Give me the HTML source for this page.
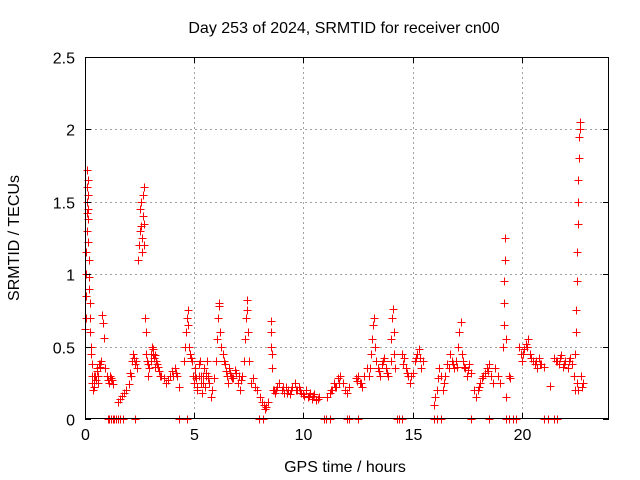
<!DOCTYPE html>
<html><head><meta charset="utf-8"><style>
body{margin:0;background:#fff;}
svg{display:block;font-family:"Liberation Sans",sans-serif;}
</style></head><body>
<svg id="chart" width="640" height="480"></svg>
<script>
const times=[0.02,0.03,0.04,0.05,0.06,0.07,0.08,0.09,0.1,0.11,0.12,0.13,0.14,0.15,0.16,0.17,0.18,0.2,0.22,0.24,0.25,0.27,0.28,0.3,0.32,0.34,
0.37,0.4,0.43,0.46,0.5,0.53,0.56,0.6,0.65,0.7,0.75,0.8,0.82,0.85,0.9,1.0,1.05,1.1,1.2,1.3,
1.5,1.6,1.7,1.8,1.9,2.0,2.1,2.15,2.2,2.3,2.4,
2.45,2.48,2.5,2.52,2.55,2.57,2.6,2.62,2.64,2.66,2.68,2.7,2.72,
2.75,2.78,2.8,2.85,2.9,2.95,3.0,3.05,3.1,3.15,3.2,3.25,3.3,3.35,3.4,3.5,3.6,3.7,3.8,3.9,4.0,4.1,4.2,4.3,
4.55,4.6,4.63,4.66,4.7,4.73,4.76,4.8,4.85,4.9,4.95,5.0,5.05,5.1,5.15,5.2,5.25,5.3,5.35,5.4,5.45,5.5,5.55,5.6,5.65,5.7,5.75,5.8,5.9,6.0,
6.05,6.1,6.13,6.16,6.2,6.25,6.3,6.35,6.4,6.5,6.55,6.6,6.7,6.8,6.9,7.0,7.1,7.2,
7.3,7.33,7.36,7.4,7.43,7.46,7.5,7.6,7.7,7.8,7.9,8.0,8.1,8.2,8.25,8.3,8.4,
8.5,8.52,8.54,8.56,8.58,8.6,8.7,8.8,8.9,9.0,9.1,9.2,9.3,9.4,9.5,9.6,9.7,9.8,9.9,10.0,10.1,10.2,10.3,10.4,10.5,10.6,10.7,
11.1,11.2,11.3,11.4,11.5,11.6,11.7,11.8,11.9,12.0,12.1,
12.4,12.5,12.6,12.7,12.8,12.9,13.0,13.1,13.15,13.2,13.25,13.3,13.35,13.4,13.5,13.6,13.7,13.8,13.9,
14.0,14.03,14.06,14.1,14.13,14.16,14.2,14.5,14.6,14.7,14.8,14.9,15.0,15.1,15.2,15.3,15.4,15.5,
16.0,16.05,16.1,16.15,16.2,16.3,16.4,16.5,16.6,16.7,16.8,16.9,17.0,17.1,17.15,17.2,17.25,17.3,17.4,17.5,17.6,17.7,
17.8,17.9,18.0,18.1,18.2,18.3,18.4,18.5,18.6,18.7,18.8,18.9,19.0,
19.15,19.17,19.19,19.21,19.23,19.25,19.27,19.3,19.4,19.45,
19.9,19.95,20.0,20.1,20.2,20.3,20.4,20.5,20.6,20.7,20.8,20.9,21.0,21.3,
21.5,21.6,21.7,21.8,21.9,22.0,22.1,22.2,22.3,
22.4,22.45,22.48,22.5,22.52,22.54,22.56,22.58,22.6,22.62,22.64,22.66,22.68,22.45,22.55,22.6,22.7,22.75,22.8,
0.42,0.58,0.68,1.15,1.25,2.05,2.25,2.35,2.9,3.02,3.12,3.22,3.45,4.05,4.15,5.02,5.12,5.22,5.32,5.42,5.52,5.62,6.45,6.62,6.75,6.85,7.05,7.15,
8.65,8.75,9.05,9.25,9.45,9.65,9.85,10.05,10.25,10.45,10.65,11.25,11.45,11.65,12.45,12.65,13.05,13.45,13.65,13.85,14.55,14.75,14.95,15.15,15.35,
16.45,16.65,16.85,17.05,17.35,17.55,18.05,18.25,18.45,20.05,20.25,20.45,20.65,20.85,21.55,21.75,21.95,22.15];
const values=[0.62,0.7,0.85,1.0,1.15,1.3,1.42,1.5,1.6,1.72,1.65,1.55,1.45,1.38,1.22,1.1,0.98,0.9,0.8,0.7,0.6,0.5,0.45,0.38,0.3,0.25,
0.2,0.22,0.25,0.3,0.27,0.33,0.35,0.3,0.38,0.36,0.4,0.72,0.66,0.56,0.35,0.3,0.27,0.25,0.28,0.24,
0.12,0.14,0.16,0.18,0.2,0.24,0.3,0.4,0.45,0.38,0.35,
1.1,1.2,1.3,1.45,1.5,1.33,1.15,1.25,1.4,1.55,1.6,1.35,1.2,
0.7,0.6,0.45,0.4,0.3,0.35,0.45,0.5,0.48,0.42,0.44,0.4,0.38,0.36,0.33,0.3,0.28,0.25,0.27,0.3,0.33,0.35,0.3,0.22,
0.4,0.5,0.6,0.7,0.75,0.65,0.5,0.45,0.42,0.4,0.3,0.25,0.35,0.28,0.2,0.3,0.4,0.25,0.18,0.3,0.35,0.22,0.3,0.4,0.3,0.25,0.15,0.2,0.28,0.4,
0.55,0.7,0.8,0.78,0.6,0.5,0.45,0.4,0.38,0.3,0.25,0.35,0.3,0.28,0.32,0.25,0.2,0.3,
0.4,0.55,0.7,0.82,0.75,0.6,0.4,0.25,0.28,0.22,0.2,0.15,0.12,0.1,0.07,0.08,0.12,
0.68,0.6,0.5,0.45,0.35,0.2,0.18,0.22,0.25,0.2,0.18,0.22,0.2,0.17,0.22,0.25,0.2,0.22,0.18,0.17,0.2,0.15,0.18,0.14,0.17,0.13,0.15,
0.15,0.18,0.2,0.25,0.22,0.28,0.3,0.25,0.2,0.18,0.22,
0.28,0.3,0.25,0.22,0.3,0.35,0.3,0.45,0.55,0.65,0.7,0.5,0.4,0.35,0.3,0.38,0.42,0.35,0.3,
0.4,0.55,0.7,0.76,0.6,0.45,0.35,0.45,0.42,0.35,0.3,0.25,0.32,0.4,0.45,0.48,0.35,0.4,
0.1,0.15,0.2,0.28,0.35,0.3,0.2,0.3,0.38,0.45,0.4,0.35,0.4,0.5,0.6,0.67,0.45,0.4,0.35,0.3,0.38,0.32,
0.2,0.15,0.2,0.25,0.28,0.32,0.35,0.38,0.3,0.25,0.35,0.3,0.25,
0.5,0.65,0.8,0.95,1.1,1.25,0.55,0.15,0.3,0.28,
0.5,0.45,0.4,0.48,0.52,0.55,0.45,0.4,0.38,0.35,0.42,0.38,0.36,0.23,
0.42,0.4,0.38,0.44,0.36,0.4,0.35,0.42,0.38,
0.3,0.45,0.6,0.75,0.95,1.15,1.35,1.5,1.65,1.8,1.95,2.05,2.0,0.2,0.25,0.2,0.3,0.22,0.25,
0.3,0.25,0.38,0.3,0.27,0.32,0.42,0.4,0.38,0.4,0.45,0.36,0.3,0.3,0.32,0.3,0.22,0.38,0.3,0.25,0.32,0.28,0.33,0.32,0.28,0.34,0.3,0.27,
0.2,0.2,0.22,0.18,0.2,0.2,0.2,0.16,0.16,0.16,0.14,0.2,0.22,0.25,0.26,0.25,0.35,0.33,0.4,0.32,0.38,0.32,0.3,0.42,0.42,
0.25,0.35,0.38,0.36,0.36,0.34,0.22,0.3,0.33,0.45,0.5,0.42,0.4,0.38,0.4,0.42,0.38,0.4];
const zeroTimes=[1.05,1.12,1.2,1.28,1.35,1.42,1.5,1.6,1.75,2.3,4.3,4.65,7.95,8.15,10.95,11.05,11.2,12.0,12.1,12.5,14.3,14.4,14.5,16.0,16.1,16.3,17.7,18.5,19.3,19.4,19.6,19.75,21.0,21.2,21.5,21.6];
const xTicks=[0,5,10,15,20];
const yTicks=[0,0.5,1,1.5,2,2.5];
const yTickLabels=["0","0.5","1","1.5","2","2.5"];

const L=85,R=609,T=57,B=419,XMAX=24,YMAX=2.5;
const sx=t=>L+t/XMAX*(R-L);
const sy=v=>B-v/YMAX*(B-T);
const svg=document.getElementById('chart');
const NS='http://www.w3.org/2000/svg';
function mk(tag,attrs,parent){const e=document.createElementNS(NS,tag);for(const k in attrs)e.setAttribute(k,attrs[k]);(parent||svg).appendChild(e);return e;}

const grid=mk('g',{});


xTicks.forEach(t=>{if(t>0)mk('line',{x1:Math.round(sx(t))+0.5,x2:Math.round(sx(t))+0.5,y1:T,y2:B,stroke:'#a0a0a0','stroke-dasharray':'2,3'},grid);});
yTicks.forEach(v=>{if(v>0&&v<YMAX)mk('line',{x1:L,x2:R,y1:Math.round(sy(v))+0.5,y2:Math.round(sy(v))+0.5,stroke:'#a0a0a0','stroke-dasharray':'2,3'},grid);});

const marks=mk('g',{});


function plus(t,v){const x=Math.round(sx(t))+0.5,y=Math.round(sy(v))+0.5;
const p=mk('path',{d:`M${x-4},${y}h8M${x},${y-4}v8`,stroke:'#ff0000','stroke-width':1,fill:'none','shape-rendering':'crispEdges'},marks);

}
times.forEach((t,i)=>plus(t,values[i]));
zeroTimes.forEach(t=>plus(t,0));

const axes=mk('g',{});


mk('rect',{x:L+0.5,y:T+0.5,width:R-L-1,height:B-T-1,fill:'none',stroke:'#000'},axes);
xTicks.forEach(t=>{const x=Math.round(sx(t))+0.5;
mk('line',{x1:x,x2:x,y1:B,y2:B-6,stroke:'#000'},axes);
mk('line',{x1:x,x2:x,y1:T,y2:T+6,stroke:'#000'},axes);
const tx=mk('text',{x:x,y:B+21,'font-size':16,'text-anchor':'middle'},axes);tx.textContent=t;

});
yTicks.forEach((v,i)=>{const y=Math.round(sy(v))+0.5;
mk('line',{x1:L,x2:L+6,y1:y,y2:y,stroke:'#000'},axes);
mk('line',{x1:R,x2:R-6,y1:y,y2:y,stroke:'#000'},axes);
const tx=mk('text',{x:L-10,y:y+6,'font-size':16,'text-anchor':'end'},axes);tx.textContent=yTickLabels[i];

});

const title=mk('text',{x:344,y:33,'font-size':16,'text-anchor':'middle'});title.textContent='Day 253 of 2024, SRMTID for receiver cn00';


const xl=mk('text',{x:345,y:472,'font-size':16,'text-anchor':'middle'});xl.textContent='GPS time / hours';


const yl=mk('text',{x:0,y:0,'font-size':16,'text-anchor':'middle',transform:'translate(19,238) rotate(-90)'});yl.textContent='SRMTID / TECUs';


</script>
</body></html>
